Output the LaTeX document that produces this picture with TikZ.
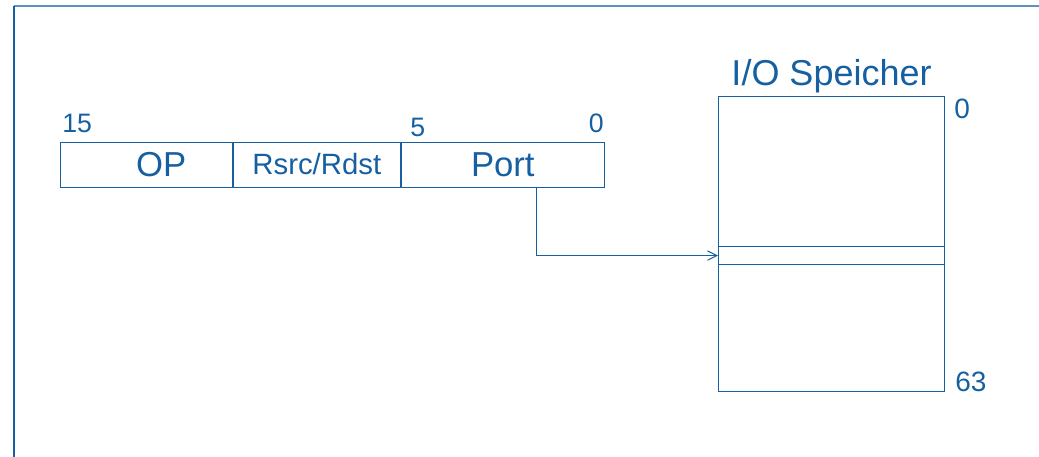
\documentclass[tikz,border=0pt]{standalone}
\usepackage{fontspec}
\setmainfont{Liberation Sans}
\usepackage{tikz}
\usetikzlibrary{calc, arrows.meta}
\definecolor{lineblue}{RGB}{22,96,162}

\begin{document}
\begin{tikzpicture}[x=0.75pt, y=-0.75pt,
  field/.style={draw=lineblue, line width=0.75pt, text=lineblue, inner sep=0pt, minimum height=33.75pt, anchor=west},
  cell/.style={draw=lineblue, line width=0.8pt, inner sep=0pt, minimum width=169.5pt, anchor=north west},
  bitno/.style={text=lineblue, inner sep=0pt, font=\fontsize{20}{24}\selectfont},
  big/.style={font=\fontsize{26}{30}\selectfont}]
\useasboundingbox (0,0) rectangle (1039,457);
\draw[lineblue!70, line width=0.8pt] (14,6) -- (1039,6);
\draw[lineblue, line width=1.3pt] (14,6) -- (14,457);
\node[field, big, minimum width=129pt] (op) at (60,164.5) {\hspace*{22pt}OP};
\node[field, minimum width=125pt, font=\fontsize{22}{26}\selectfont] (reg) at (op.east) {Rsrc/Rdst};
\node[field, big, minimum width=152.5pt] (port) at (reg.east) {Port};
\node[bitno, anchor=south west] (b15) at ($(op.north west)+(2,-8)$) {15};
\node[bitno, anchor=south] (b5) at ($(port.north west)+(17,-4)$) {5};
\node[bitno, anchor=south east] (b0) at ($(port.north east)+(-1,-8)$) {0};
\node[cell, minimum height=221.25pt] (mem) at (718,96) {};
\node[cell, minimum height=13.5pt] (slot) at (718,246) {};
\node[text=lineblue, anchor=south, inner sep=0pt, font=\fontsize{27}{31}\selectfont] (memname) at ($(mem.north)+(0,-3)$) {I/O Speicher};
\node[bitno, anchor=north west, font=\fontsize{21}{25}\selectfont] (m0) at ($(mem.north east)+(9,3)$) {0};
\node[bitno, anchor=south west, font=\fontsize{21}{25}\selectfont] (m63) at ($(mem.south east)+(10,0)$) {63};
\draw[lineblue, line width=0.75pt, -{Straight Barb[length=7pt, width=7pt]}] ($(port.south)+(34,0)$) |- (slot.west);
\end{tikzpicture}
\end{document}
